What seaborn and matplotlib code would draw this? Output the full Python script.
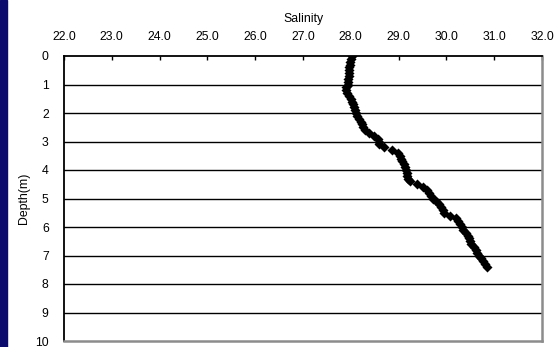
import pandas as pd
import seaborn as sns
import matplotlib.pyplot as plt
from matplotlib.patches import Rectangle

depth = [0.0, 0.1, 0.2, 0.3, 0.4, 0.5, 0.6, 0.7, 0.8, 0.9,
         1.0, 1.1, 1.2, 1.3, 1.4, 1.5, 1.6, 1.7, 1.8, 1.9,
         2.0, 2.1, 2.2, 2.3, 2.4, 2.5, 2.6, 2.7, 2.8, 2.9,
         3.0, 3.1, 3.2, 3.3, 3.4, 3.5, 3.6, 3.7, 3.8, 3.9,
         4.0, 4.1, 4.2, 4.3, 4.4, 4.5, 4.6, 4.7, 4.8, 4.9,
         5.0, 5.1, 5.2, 5.3, 5.4, 5.5, 5.6, 5.7, 5.8, 5.9,
         6.0, 6.1, 6.2, 6.3, 6.4, 6.5, 6.6, 6.7, 6.8, 6.9,
         7.0, 7.1, 7.2, 7.3, 7.4]
salinity = [28.02, 28.01, 27.99, 27.98, 27.97, 27.97, 27.96, 27.96, 27.95, 27.95,
            27.94, 27.91, 27.89, 27.93, 27.96, 28.00, 28.03, 28.04, 28.06, 28.08,
            28.10, 28.13, 28.17, 28.21, 28.23, 28.25, 28.30, 28.38, 28.48, 28.56,
            28.60, 28.58, 28.70, 28.86, 28.98, 29.03, 29.06, 29.08, 29.11, 29.13,
            29.15, 29.17, 29.18, 29.20, 29.24, 29.38, 29.52, 29.59, 29.63, 29.67,
            29.72, 29.79, 29.85, 29.89, 29.92, 29.96, 30.08, 30.21, 30.25, 30.29,
            30.32, 30.35, 30.40, 30.45, 30.48, 30.50, 30.52, 30.58, 30.62, 30.65,
            30.69, 30.73, 30.77, 30.80, 30.85]
x_ticks = [22.0, 23.0, 24.0, 25.0, 26.0, 27.0, 28.0, 29.0, 30.0, 31.0, 32.0]
y_ticks = [0, 1, 2, 3, 4, 5, 6, 7, 8, 9, 10]

df = pd.DataFrame({'Salinity': salinity, 'Depth(m)': depth})

sns.set_style('white')
plt.rcParams['font.family'] = ['Liberation Sans', 'DejaVu Sans']
plt.rcParams['text.color'] = 'black'
plt.rcParams['axes.labelcolor'] = 'black'
plt.rcParams['xtick.color'] = 'black'
plt.rcParams['ytick.color'] = 'black'

fig = plt.figure(figsize=(5.55, 3.47), dpi=100)
fig.patches.append(Rectangle((0, 0), 7 / 555, 1, transform=fig.transFigure,
                             color='#0b0b6e', zorder=0))
ax = fig.add_axes([64 / 555, 6 / 347, 478 / 555, 285 / 347])

sns.scatterplot(data=df, x='Salinity', y='Depth(m)', marker='D', s=26,
                color='black', edgecolor='black', linewidth=0, ax=ax, zorder=3)

ax.set_xlim(22, 32)
ax.set_ylim(10, 0)
ax.set_xticks(x_ticks)
ax.set_xticklabels(['%.1f' % v for v in x_ticks])
ax.set_yticks(y_ticks)
ax.xaxis.tick_top()
ax.xaxis.set_label_position('top')
ax.tick_params(axis='x', direction='in', length=3, width=1, color='black',
               labelsize=8.8, pad=9)
ax.tick_params(axis='y', length=0, labelsize=8.8, pad=11)
ax.set_xlabel('Salinity', fontsize=8.8, labelpad=7)
ax.set_ylabel('Depth(m)', fontsize=8.8, labelpad=4)

for d in y_ticks[1:-1]:
    ax.axhline(d, color='black', lw=1, zorder=1)

ax.spines['top'].set_color('black')
ax.spines['left'].set_color('black')
ax.spines['top'].set_linewidth(1.3)
ax.spines['left'].set_linewidth(1.3)
ax.spines['right'].set_color('#8c8c8c')
ax.spines['bottom'].set_color('#8c8c8c')
ax.spines['right'].set_linewidth(1.8)
ax.spines['bottom'].set_linewidth(1.8)

fig.savefig('out.png', dpi=100)
